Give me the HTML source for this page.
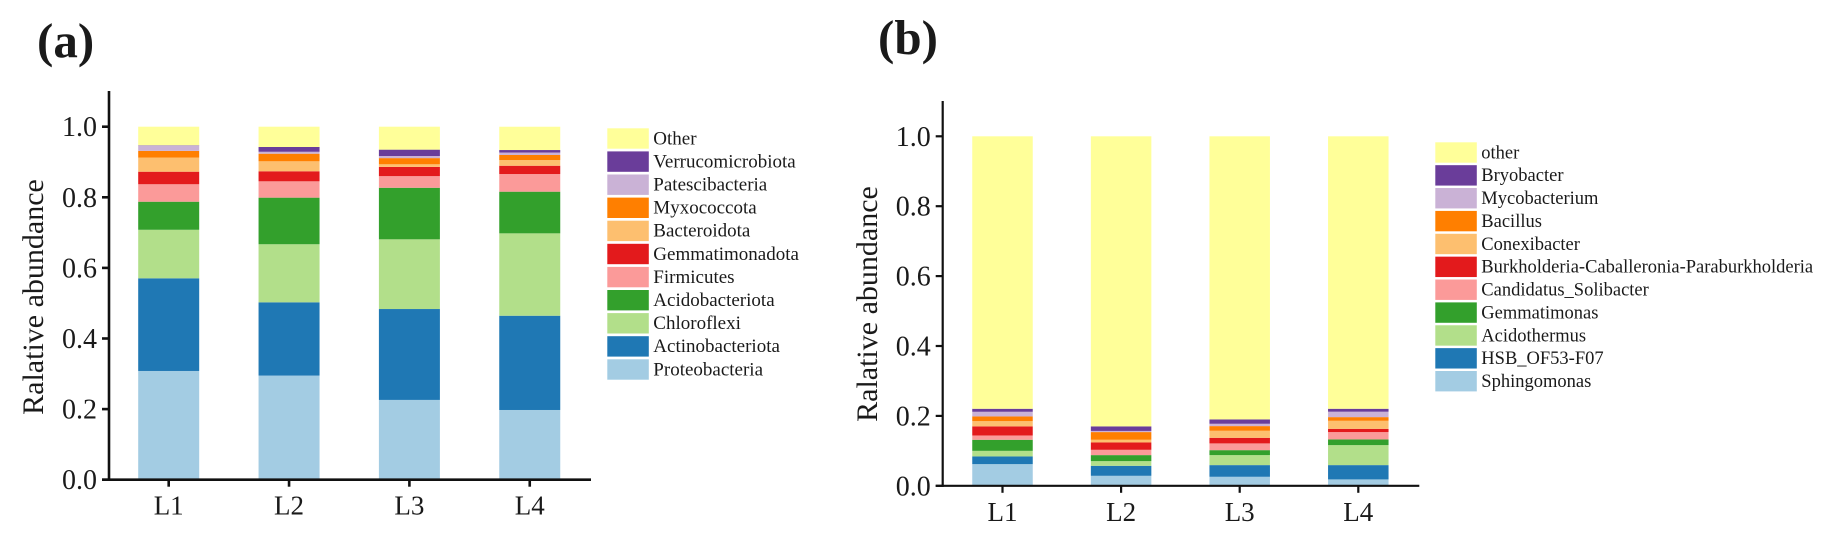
<!DOCTYPE html>
<html lang="en">
<head>
<meta charset="utf-8">
<title>Relative abundance stacked bars</title>
<style>
html,body{margin:0;padding:0;background:#fff;width:1831px;height:534px;overflow:hidden}
svg{display:block}
text{font-family:"Liberation Serif",serif;fill:#1a1a1a}
</style>
</head>
<body>
<svg id="chart" width="1831" height="534" viewBox="0 0 1831 534" xmlns="http://www.w3.org/2000/svg">
<rect width="1831" height="534" fill="#fff"/>
<text x="37" y="57" font-size="49" font-weight="700" fill="#111">(a)</text>
<text x="878" y="54" font-size="49" font-weight="700" fill="#111">(b)</text>
</svg>
<script>
const samples = ['L1', 'L2', 'L3', 'L4'];
const yTickValues = [0, 0.2, 0.4, 0.6, 0.8, 1.0];
const yTickLabels = ['0.0', '0.2', '0.4', '0.6', '0.8', '1.0'];
const palette = ['#a3cce3', '#1f78b4', '#b2df8a', '#33a02c', '#fb9a99', '#e31a1c', '#fdbf6f', '#ff7f00', '#cab2d6', '#6a3d9a', '#ffff99'];

// Panel (a): phylum level, listed bottom of stack first
const phylumNames = ['Proteobacteria', 'Actinobacteriota', 'Chloroflexi', 'Acidobacteriota', 'Firmicutes', 'Gemmatimonadota', 'Bacteroidota', 'Myxococcota', 'Patescibacteria', 'Verrucomicrobiota', 'Other'];
const proteobacteria = [0.308, 0.295, 0.226, 0.1975];
const actinobacteriota = [0.2625, 0.2075, 0.2575, 0.267];
const chloroflexi = [0.1375, 0.1645, 0.1975, 0.2334];
const acidobacteriota = [0.0795, 0.132, 0.146, 0.118];
const firmicutes = [0.0495, 0.0463, 0.033, 0.05];
const gemmatimonadota = [0.0355, 0.0284, 0.026, 0.0235];
const bacteroidota = [0.04, 0.0283, 0.0075, 0.0161];
const myxococcota = [0.019, 0.0215, 0.0175, 0.0144];
const patescibacteria = [0.015, 0.0055, 0.006, 0.007];
const verrucomicrobiota = [0.001, 0.0135, 0.018, 0.007];
const otherPhyla = [0.0525, 0.0575, 0.065, 0.066];
const phylumSeries = [proteobacteria, actinobacteriota, chloroflexi, acidobacteriota, firmicutes, gemmatimonadota, bacteroidota, myxococcota, patescibacteria, verrucomicrobiota, otherPhyla];

// Panel (b): genus level, listed bottom of stack first
const genusNames = ['Sphingomonas', 'HSB_OF53-F07', 'Acidothermus', 'Gemmatimonas', 'Candidatus_Solibacter', 'Burkholderia-Caballeronia-Paraburkholderia', 'Conexibacter', 'Bacillus', 'Mycobacterium', 'Bryobacter', 'other'];
const sphingomonas = [0.062, 0.0286, 0.0258, 0.0183];
const hsb = [0.022, 0.0286, 0.0334, 0.0409];
const acidothermus = [0.016, 0.0134, 0.0286, 0.0572];
const gemmatimonas = [0.0317, 0.0172, 0.0142, 0.0163];
const solibacter = [0.0123, 0.0152, 0.0193, 0.021];
const burkholderia = [0.026, 0.021, 0.016, 0.0093];
const conexibacter = [0.015, 0.0077, 0.0202, 0.023];
const bacillus = [0.0135, 0.022, 0.0133, 0.0105];
const mycobacterium = [0.0133, 0.0033, 0.0067, 0.0155];
const bryobacter = [0.0086, 0.013, 0.0125, 0.0084];
const otherGenera = [0.7796, 0.83, 0.81, 0.7796];
const genusSeries = [sphingomonas, hsb, acidothermus, gemmatimonas, solibacter, burkholderia, conexibacter, bacillus, mycobacterium, bryobacter, otherGenera];

const svg = document.getElementById('chart');
const NS = 'http://www.w3.org/2000/svg';

function make(tag, attrs, parent, content) {
  const el = document.createElementNS(NS, tag);
  for (const k in attrs) el.setAttribute(k, attrs[k]);
  if (content !== undefined) el.textContent = content;
  parent.appendChild(el);
  return el;
}

function slug(s) {
  return s.toLowerCase().replace(/[^a-z0-9]+/g, '-');
}

function drawPanel(p, names, series) {
  const yScale = v => p.baseY - v * p.unit;
  const xScale = i => p.firstX + i * p.stepX;

  const group = make('g', {}, svg);
  
  

  // stacked bars
  samples.forEach((sample, i) => {
    let cumulative = 0;
    series.forEach((values, s) => {
      const top = yScale(cumulative + values[i]);
      const bottom = yScale(cumulative);
      const bar = make('rect', { x: xScale(i) - p.barW / 2, y: top, width: p.barW, height: bottom - top, fill: palette[s] }, group);
      
      
      cumulative += values[i];
    });
  });

  // y axis
  const yAxis = make('line', { x1: p.axisX, x2: p.axisX, y1: p.axisTop, y2: p.baseY + p.axisW / 2, stroke: '#111', 'stroke-width': p.axisW }, group);
  
  

  yTickValues.forEach((v, i) => {
    const tick = make('line', { x1: p.axisX - 7, x2: p.axisX, y1: yScale(v), y2: yScale(v), stroke: '#111', 'stroke-width': p.axisW }, group);
    
    
    const label = make('text', { x: p.axisX - 12, y: yScale(v) + 9.5, 'font-size': 28, 'text-anchor': 'end' }, group, yTickLabels[i]);
    
    
  });

  // x axis
  const xAxis = make('line', { x1: p.axisX - 7, x2: p.axisEnd, y1: p.baseY, y2: p.baseY, stroke: '#111', 'stroke-width': p.axisW }, group);
  
  

  samples.forEach((sample, i) => {
    const tick = make('line', { x1: xScale(i), x2: xScale(i), y1: p.baseY, y2: p.baseY + 7, stroke: '#111', 'stroke-width': p.axisW }, group);
    
    
    const label = make('text', { x: xScale(i), y: p.baseY + 35, 'font-size': 27, 'text-anchor': 'middle' }, group, sample);
    
    
  });

  // y axis title
  const title = make('text', { x: p.titleX, y: p.titleY, 'font-size': 30, 'text-anchor': 'middle', transform: 'rotate(-90 ' + p.titleX + ' ' + p.titleY + ')' }, group, 'Ralative abundance');
  
  

  // legend, top row is the last series
  const count = names.length;
  names.forEach((name, s) => {
    const row = count - 1 - s;
    const y = p.legendY + row * p.legendStep;
    const swatch = make('rect', { x: p.legendX, y: y, width: 41.5, height: 20.4, fill: palette[s] }, group);
    
    
    const label = make('text', { x: p.legendX + 46, y: y + 16, 'font-size': p.legendFont }, group, name);
    
    
  });
}

drawPanel({
  id: 'a', baseY: 479.7, unit: 353, firstX: 168.7, stepX: 120.35, barW: 61,
  axisX: 109, axisTop: 91, axisEnd: 591, axisW: 2.6,
  titleX: 43, titleY: 297,
  legendX: 607.3, legendY: 128.3, legendStep: 23.1, legendFont: 19
}, phylumNames, phylumSeries);

drawPanel({
  id: 'b', baseY: 485.8, unit: 349.5, firstX: 1002.5, stepX: 118.6, barW: 60.5,
  axisX: 942.7, axisTop: 101, axisEnd: 1419.3, axisW: 2.2,
  titleX: 877, titleY: 304,
  legendX: 1435.3, legendY: 142.3, legendStep: 22.87, legendFont: 18.5
}, genusNames, genusSeries);
</script>
</body>
</html>
